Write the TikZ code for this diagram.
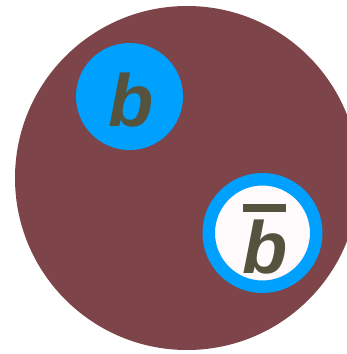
\documentclass[tikz,border=0pt]{standalone}
\usepackage{fontspec}
\setmainfont{Liberation Sans}
\definecolor{bgred}{HTML}{7D4449}
\definecolor{quarkblue}{HTML}{00A0FF}
\definecolor{quarktext}{HTML}{55533E}
\definecolor{antiwhite}{HTML}{FFFAFC}
\tikzset{
  quarkletter/.style={text=quarktext, font=\fontsize{74}{74}\selectfont\bfseries\itshape, inner sep=0pt, anchor=base},
}
\begin{document}
\begin{tikzpicture}[x=1pt,y=-1pt]
\useasboundingbox (0,0) rectangle (347,354);
\begin{scope}
  \clip (0,0) rectangle (347,354);
  \fill[bgred] (187,178) circle (172pt);
\end{scope}
% quark b
\node[circle, fill=quarkblue, minimum size=107pt, inner sep=0pt] (bq) at (129.5,96.5) {};
\node[quarkletter] (bl) at (131,126) {b};
% antiquark
\node[circle, fill=antiwhite, draw=quarkblue, line width=12.5pt, minimum size=107.5pt, inner sep=0pt] (abq) at (262.5,233) {};
\node[quarkletter] (abl) at (265,273) {b};
\fill[quarktext] (243,204) rectangle (286,212);
\end{tikzpicture}
\end{document}
